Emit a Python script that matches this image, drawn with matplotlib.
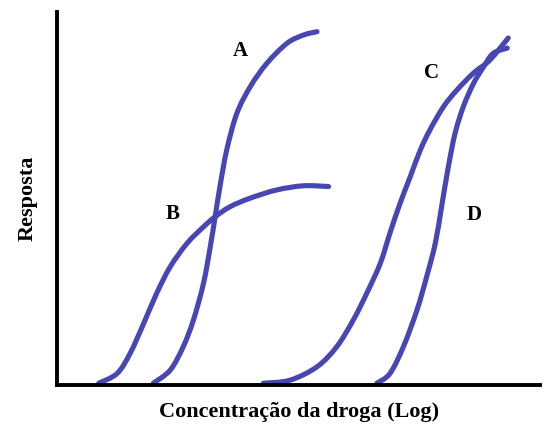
import matplotlib
matplotlib.use("Agg")
import matplotlib.pyplot as plt
import numpy as np
from matplotlib.path import Path
from matplotlib.patches import PathPatch

# curve points: x = log concentration, y = response (%)
a_x = [1.99, 2.34, 2.61, 2.82, 3.03, 3.17, 3.27, 3.37, 3.51, 3.72, 4.00, 4.34, 4.76, 5.10, 5.38]
a_y = [0.5, 4.0, 10.3, 17.4, 27.3, 37.1, 45.1, 53.2, 63.0, 72.8, 80.0, 86.2, 91.6, 93.8, 94.7]

b_x = [0.86, 1.24, 1.51, 1.79, 2.06, 2.34, 2.69, 3.03, 3.27, 3.58, 4.00, 4.55, 5.10, 5.62]
b_y = [0.5, 3.1, 8.5, 16.5, 24.6, 31.7, 38.0, 42.4, 45.1, 47.8, 50.1, 52.3, 53.4, 53.2]

c_x = [4.27, 4.82, 5.38, 5.79, 6.13, 6.41, 6.69, 6.89, 7.10, 7.31, 7.52, 7.72, 8.00, 8.28, 8.62, 8.96, 9.34]
c_y = [0.5, 1.3, 4.9, 10.3, 17.4, 24.6, 32.6, 40.7, 48.7, 55.8, 63.0, 68.4, 74.6, 79.1, 83.6, 87.1, 93.0]

d_x = [6.62, 6.89, 7.17, 7.45, 7.65, 7.83, 7.96, 8.10, 8.24, 8.41, 8.62, 8.83, 9.03, 9.32]
d_y = [0.5, 3.1, 10.3, 20.1, 29.0, 38.0, 47.8, 58.5, 67.5, 74.6, 80.8, 85.3, 88.9, 90.3]

labels = ["A", "B", "C", "D"]
label_x = [3.79, 2.40, 7.76, 8.63]
label_y = [89.5, 45.8, 83.6, 45.6]

BLUE = "#4747b3"
SERIF = "Liberation Serif"


def smooth_path(xs, ys):
    # catmull-rom through the points, handed to matplotlib as bezier segments
    p = np.column_stack([xs, ys]).astype(float)
    p = np.vstack([p[0], p, p[-1]])
    verts = [p[1]]
    codes = [Path.MOVETO]
    for i in range(1, len(p) - 2):
        c1 = p[i] + (p[i + 1] - p[i - 1]) / 6
        c2 = p[i + 1] - (p[i + 2] - p[i]) / 6
        verts += [c1, c2, p[i + 1]]
        codes += [Path.CURVE4] * 3
    return Path(verts, codes)


fig = plt.figure(figsize=(5.45, 4.25), dpi=100)
ax = fig.add_axes([0.105, 0.094, 0.886, 0.878])

for xs, ys in [(a_x, a_y), (b_x, b_y), (c_x, c_y), (d_x, d_y)]:
    patch = PathPatch(smooth_path(xs, ys), facecolor="none", edgecolor=BLUE,
                      lw=3.7, capstyle="round", joinstyle="round", clip_on=False)
    ax.add_patch(patch)

for t, x, y in zip(labels, label_x, label_y):
    ax.text(x, y, t, ha="center", va="center", fontsize=15,
            fontweight="bold", family=SERIF)

ax.set_xlim(0, 10)
ax.set_ylim(0, 100)
ax.set_xticks([])
ax.set_yticks([])
ax.spines["top"].set_visible(False)
ax.spines["right"].set_visible(False)
ax.spines["left"].set_linewidth(2.8)
ax.spines["bottom"].set_linewidth(2.8)

ax.set_xlabel("Concentração da droga (Log)", fontsize=16, fontweight="bold",
              family=SERIF, labelpad=12)
ax.set_ylabel("Resposta", fontsize=16, fontweight="bold", family=SERIF,
              labelpad=14)

fig.savefig("out.png", dpi=100)
